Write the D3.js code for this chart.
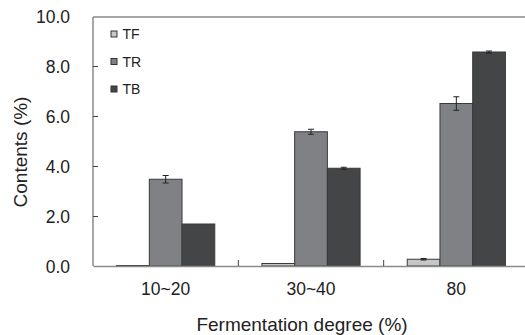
<!DOCTYPE html>
<html>
<head>
  <meta charset="UTF-8">
  <title>Contents by fermentation degree</title>
  <script src="https://d3js.org/d3.v7.min.js"></script>
  <style>
    body { margin: 0; background: #fff; }
    text { font-family: "Liberation Sans", Arial, sans-serif; fill: #222; }
  </style>
</head>
<body>
  <svg width="525" height="335"></svg>

  <script>
    // data
    const categories = ["10~20", "30~40", "80"];
    const seriesNames = ["TF", "TR", "TB"];
    const TF = [0.02, 0.1, 0.27];
    const TR = [3.47, 5.37, 6.5];
    const TB = [1.68, 3.91, 8.56];
    const TFerr = [0, 0, 0.03];
    const TRerr = [0.15, 0.1, 0.27];
    const TBerr = [0, 0.04, 0.04];
    const yTicks = [0, 2, 4, 6, 8, 10];

    const colors = { TF: "#c6c7c8", TR: "#808184", TB: "#444547" };
    const values = { TF, TR, TB };
    const errors = { TF: TFerr, TR: TRerr, TB: TBerr };

    const svg = d3.select("svg");
    const mLeft = 93, mRight = 529, mTop = 16, mBottom = 266;

    const x = d3.scaleBand().domain(categories).range([mLeft, mRight]);
    const xInner = d3.scaleBand().domain(seriesNames)
      .range([0, x.bandwidth()]).paddingOuter(0.72).paddingInner(0);
    const y = d3.scaleLinear().domain([0, 10]).range([mBottom, mTop]);

    const rows = [];
    categories.forEach((c, i) => {
      seriesNames.forEach(s => {
        rows.push({ cat: c, s, v: values[s][i], e: errors[s][i] });
      });
    });

    // bars
    svg.append("g")
      .selectAll("rect")
      .data(rows)
      .join("rect")
      .attr("x", d => x(d.cat) + xInner(d.s))
      .attr("y", d => y(d.v))
      .attr("width", xInner.bandwidth())
      .attr("height", d => y(0) - y(d.v))
      .attr("fill", d => colors[d.s])
      .attr("stroke", "#3a3a3a")
      .attr("stroke-width", 1);

    // error bars
    const eb = svg.append("g").attr("stroke", "#222").attr("stroke-width", 1)
      .selectAll("g")
      .data(rows.filter(d => d.e > 0))
      .join("g")
      .attr("transform", d => `translate(${x(d.cat) + xInner(d.s) + xInner.bandwidth() / 2},0)`);
    eb.append("line").attr("y1", d => y(d.v - d.e)).attr("y2", d => y(d.v + d.e));
    eb.append("line").attr("x1", -3).attr("x2", 3).attr("y1", d => y(d.v + d.e)).attr("y2", d => y(d.v + d.e));
    eb.append("line").attr("x1", -3).attr("x2", 3).attr("y1", d => y(d.v - d.e)).attr("y2", d => y(d.v - d.e));

    // frame line on top
    const axisColor = "#8a8a8a";
    svg.append("line").attr("x1", mLeft).attr("x2", mRight).attr("y1", mTop + 1).attr("y2", mTop + 1)
      .attr("stroke", axisColor).attr("stroke-width", 1.5);

    // y axis
    const yAxis = svg.append("g")
      .attr("transform", `translate(${mLeft},0)`)
      .call(d3.axisRight(y).tickValues(yTicks).tickSize(5).tickFormat(d3.format(".1f")));
    yAxis.select(".domain").attr("stroke", axisColor).attr("stroke-width", 1.5)
      .attr("d", `M0,${mTop + 1}V${mBottom}`);
    yAxis.selectAll(".tick line").attr("stroke", "#444");
    yAxis.selectAll(".tick text")
      .attr("x", -23).attr("dy", "0.38em").attr("text-anchor", "end")
      .attr("font-size", 17.5).attr("fill", "#222")
      .style("font-family", "Liberation Sans, Arial, sans-serif");
    yAxis.selectAll(".tick").filter(d => d === 0 || d === 10).select("line").remove();

    // x axis
    const xAxis = svg.append("g")
      .attr("transform", `translate(0,${mBottom})`)
      .call(d3.axisBottom(x).tickSize(0));
    xAxis.select(".domain").attr("stroke", axisColor).attr("stroke-width", 1.5);
    xAxis.selectAll(".tick text")
      .attr("y", 29).attr("dy", 0).attr("font-size", 17.5).attr("fill", "#222")
      .style("font-family", "Liberation Sans, Arial, sans-serif");
    // separators between categories
    svg.append("g").selectAll("line")
      .data(categories.slice(1))
      .join("line")
      .attr("x1", d => x(d)).attr("x2", d => x(d))
      .attr("y1", mBottom - 6).attr("y2", mBottom)
      .attr("stroke", "#444");

    // axis titles
    svg.append("text")
      .attr("transform", "translate(27,152) rotate(-90)")
      .attr("text-anchor", "middle").attr("font-size", 19)
      .text("Contents (%)");
    svg.append("text")
      .attr("x", 302).attr("y", 331)
      .attr("text-anchor", "middle").attr("font-size", 19)
      .text("Fermentation degree (%)");

    // legend
    const legend = svg.append("g")
      .selectAll("g")
      .data(seriesNames)
      .join("g")
      .attr("transform", (d, i) => `translate(111,${34 + i * 27.5})`);
    legend.append("rect")
      .attr("x", 0).attr("y", -3).attr("width", 6).attr("height", 6)
      .attr("fill", d => colors[d]).attr("stroke", "#333");
    legend.append("text")
      .attr("x", 11.5).attr("y", 5).attr("font-size", 14)
      .text(d => d);
  </script>
</body>
</html>
